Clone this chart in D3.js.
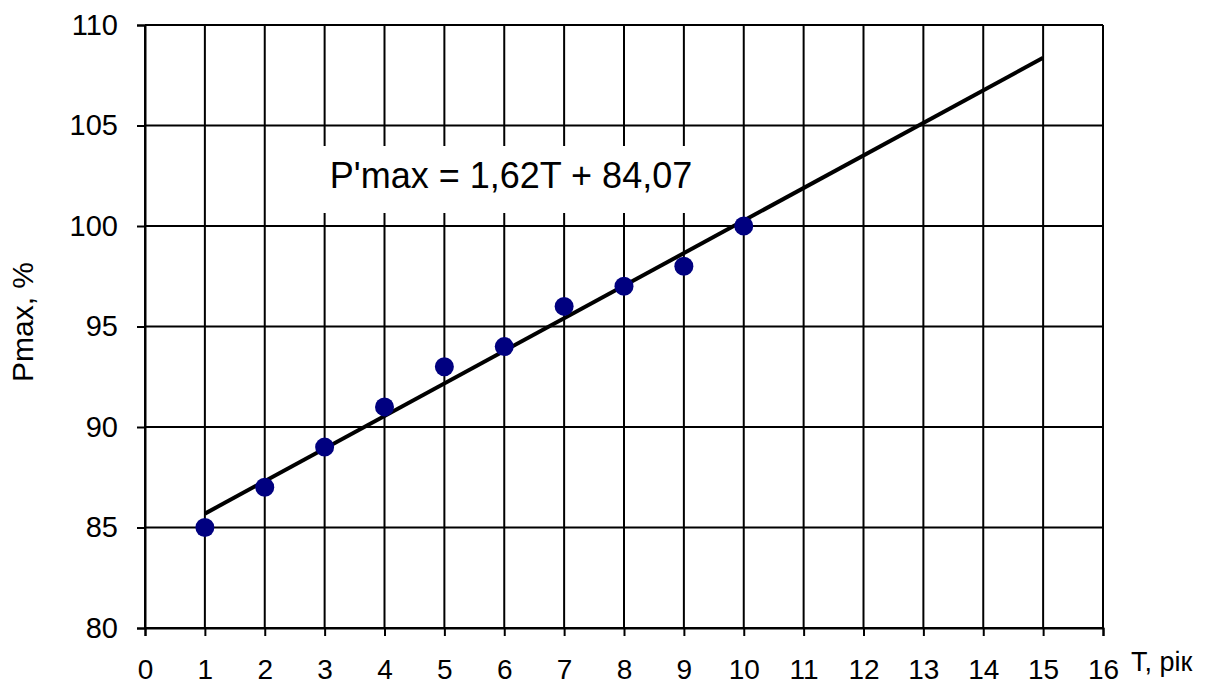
<!DOCTYPE html>
<html>
<head>
<meta charset="utf-8">
<script src="https://cdn.jsdelivr.net/npm/d3@7"></script>
<style>
  body { margin: 0; background: #fff; }
  svg text { font-family: "Liberation Sans", Arial, sans-serif; fill: #000; }
</style>
</head>
<body>
<svg id="chart" width="1207" height="685"></svg>
<script>
// observed values
const years = [1, 2, 3, 4, 5, 6, 7, 8, 9, 10];
const pmax = [85, 87, 89, 91, 93, 94, 96, 97, 98, 100];
// trend line P'max = 1,62T + 84,07 drawn from T=1 to T=15
const trendT = [1, 15];
const slope = 1.62, intercept = 84.07;
const xTicks = d3.range(0, 17);
const yTicks = [80, 85, 90, 95, 100, 105, 110];

const margin = { top: 25, right: 104, bottom: 57, left: 145 };
const width = 1207 - margin.left - margin.right;
const height = 685 - margin.top - margin.bottom;

const svg = d3.select("#chart");
const g = svg.append("g").attr("transform", `translate(${margin.left},${margin.top})`);

const x = d3.scaleLinear().domain([0, 16]).range([0, width]);
const y = d3.scaleLinear().domain([80, 110]).range([height, 0]);

// grid
g.append("g").selectAll("line").data(xTicks).join("line")
    .attr("x1", d => x(d)).attr("x2", d => x(d))
    .attr("y1", 0).attr("y2", height)
    .attr("stroke", "#000").attr("stroke-width", 2);
g.append("g").selectAll("line").data(yTicks).join("line")
    .attr("x1", 0).attr("x2", width)
    .attr("y1", d => y(d)).attr("y2", d => y(d))
    .attr("stroke", "#000").attr("stroke-width", 2);

// axes (ticks + labels)
const xAxis = g.append("g")
    .attr("transform", `translate(0,${height})`)
    .call(d3.axisBottom(x).tickValues(xTicks).tickSize(8).tickPadding(23));
const yAxis = g.append("g")
    .call(d3.axisLeft(y).tickValues(yTicks).tickSize(8).tickPadding(19));
[xAxis, yAxis].forEach(a => {
    a.select(".domain").attr("stroke", "#000").attr("stroke-width", 2);
    a.selectAll(".tick line").attr("stroke", "#000").attr("stroke-width", 2);
    a.selectAll(".tick text").style("font-family", "Liberation Sans, Arial, sans-serif").attr("fill", "#000");
});
xAxis.selectAll(".tick text").style("font-size", "28px");
yAxis.selectAll(".tick text").style("font-size", "29px");

// equation label on white box
g.append("rect")
    .attr("x", 160).attr("y", 121)
    .attr("width", 415).attr("height", 67)
    .attr("fill", "#fff");
g.append("text")
    .attr("x", 366).attr("y", 163)
    .attr("text-anchor", "middle")
    .style("font-size", "36px")
    .text("P'max = 1,62T + 84,07");

// trend line
const line = d3.line().x(d => x(d)).y(d => y(slope * d + intercept));
g.append("path")
    .datum(trendT)
    .attr("fill", "none")
    .attr("stroke", "#000")
    .attr("stroke-width", 4)
    .attr("d", line);

// points
g.append("g").selectAll("circle").data(years).join("circle")
    .attr("cx", d => x(d))
    .attr("cy", (d, i) => y(pmax[i]))
    .attr("r", 9.5)
    .attr("fill", "#000080");

// axis titles
svg.append("text")
    .attr("x", 1131).attr("y", 671)
    .style("font-size", "27px")
    .text("T, рік");
svg.append("text")
    .attr("transform", "translate(33,322) rotate(-90)")
    .attr("text-anchor", "middle")
    .style("font-size", "30px")
    .text("Pmax, %");
</script>
</body>
</html>
